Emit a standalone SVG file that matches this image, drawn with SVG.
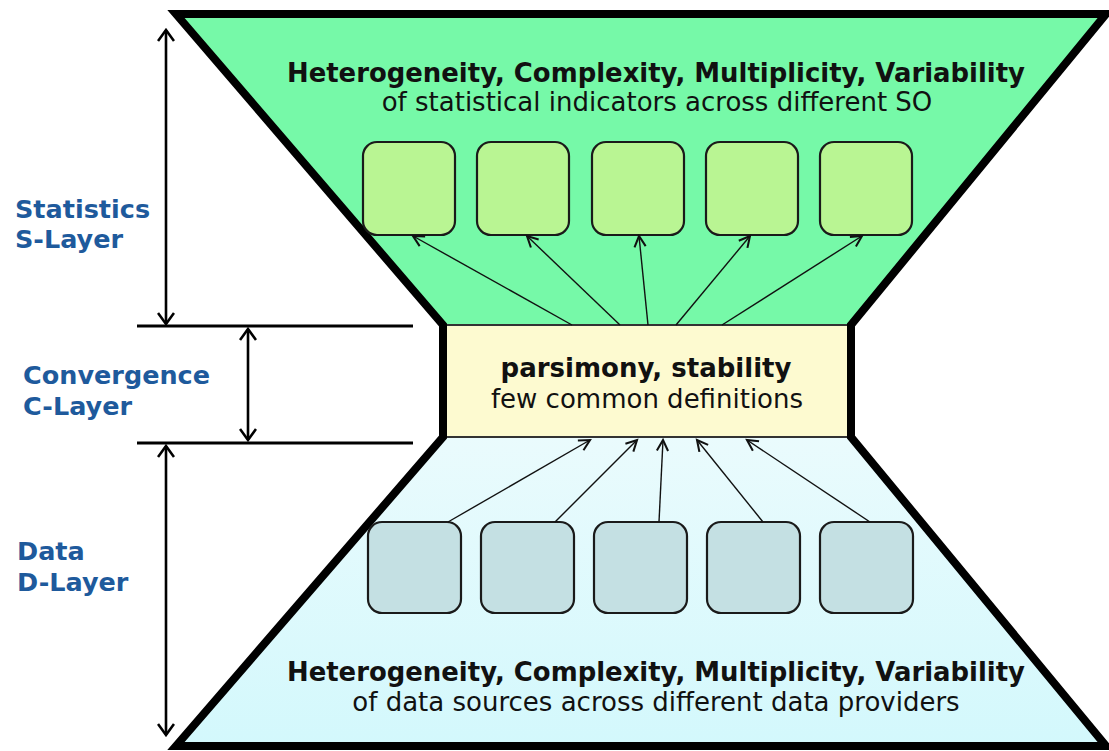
<svg xmlns="http://www.w3.org/2000/svg" width="1109" height="751" viewBox="0 0 1109 751">
<defs>
<style>
.t{font-family:"DejaVu Sans","Verdana",sans-serif;font-size:26px;fill:#111;text-anchor:middle}
.b{font-weight:bold}
.lab{font-family:"DejaVu Sans","Verdana",sans-serif;font-size:25.5px;font-weight:bold;fill:#1E5A9C}
.sbox{fill:#B9F593;stroke:#1a1a1a;stroke-width:2.2}
.dbox{fill:#C4E0E3;stroke:#1a1a1a;stroke-width:2.2}
.conn{stroke:#111;stroke-width:1.4;fill:none;marker-end:url(#ah)}
.dim{stroke:#000;stroke-width:2.6;fill:none}
</style>
<marker id="ah" markerUnits="userSpaceOnUse" markerWidth="14" markerHeight="14" refX="11" refY="6" orient="auto" viewBox="0 0 13 12">
<path d="M1,0.8 L11,6 L1,11.2" fill="none" stroke="#111" stroke-width="1.9"/>
</marker>
<marker id="dh" markerUnits="userSpaceOnUse" markerWidth="14" markerHeight="18" refX="12" refY="9" orient="auto-start-reverse" viewBox="0 0 14 18">
<path d="M1,1 L12,9 L1,17" fill="none" stroke="#000" stroke-width="2.6"/>
</marker>
<linearGradient id="dg" x1="0" y1="0" x2="0" y2="1">
<stop offset="0" stop-color="#EAFBFD"/>
<stop offset="1" stop-color="#D3F8FC"/>
</linearGradient>
</defs>

<g id="hourglass">
<polygon points="176,14 1106,14 851,325 443,325" fill="#76F9A8"/>
<polygon points="443,437 851,437 1106,746 176,746" fill="url(#dg)"/>
<rect x="443" y="325" width="408" height="112" fill="#FDFAD0" stroke="#333" stroke-width="2"/>
<path d="M176,14 L1106,14 L851,325 L851,437 L1106,746 L176,746 L443,437 L443,325 Z" fill="none" stroke="#000" stroke-width="8" stroke-linejoin="miter"/>
</g>

<g id="s-layer-text">
<text class="t b" x="656" y="82" textLength="738" lengthAdjust="spacingAndGlyphs">Heterogeneity, Complexity, Multiplicity, Variability</text>
<text class="t" x="657" y="111">of statistical indicators across different SO</text>
</g>

<g id="s-boxes">
<rect id="s1" class="sbox" x="363" y="142" width="92" height="93" rx="14"/>
<rect id="s2" class="sbox" x="477" y="142" width="92" height="93" rx="14"/>
<rect id="s3" class="sbox" x="592" y="142" width="92" height="93" rx="14"/>
<rect id="s4" class="sbox" x="706" y="142" width="92" height="93" rx="14"/>
<rect id="s5" class="sbox" x="820" y="142" width="92" height="93" rx="14"/>
</g>

<g id="c-layer-text">
<text class="t b" x="646" y="377">parsimony, stability</text>
<text class="t" x="647" y="408">few common definitions</text>
</g>

<g id="d-boxes">
<rect id="d1" class="dbox" x="368" y="522" width="93" height="91" rx="14"/>
<rect id="d2" class="dbox" x="481" y="522" width="93" height="91" rx="14"/>
<rect id="d3" class="dbox" x="594" y="522" width="93" height="91" rx="14"/>
<rect id="d4" class="dbox" x="707" y="522" width="93" height="91" rx="14"/>
<rect id="d5" class="dbox" x="820" y="522" width="93" height="91" rx="14"/>
</g>

<g id="d-layer-text">
<text class="t b" x="656" y="681" textLength="738" lengthAdjust="spacingAndGlyphs">Heterogeneity, Complexity, Multiplicity, Variability</text>
<text class="t" x="656" y="711">of data sources across different data providers</text>
</g>

<g id="connectors">
<line class="conn" x1="572" y1="325" x2="413" y2="236"/>
<line class="conn" x1="620" y1="325" x2="527" y2="236"/>
<line class="conn" x1="648" y1="325" x2="639" y2="236"/>
<line class="conn" x1="676" y1="325" x2="750" y2="236"/>
<line class="conn" x1="722" y1="325" x2="862" y2="236"/>
<line class="conn" x1="448" y1="522" x2="590" y2="440"/>
<line class="conn" x1="555" y1="522" x2="637" y2="440"/>
<line class="conn" x1="659" y1="522" x2="663" y2="440"/>
<line class="conn" x1="763" y1="522" x2="697" y2="440"/>
<line class="conn" x1="870" y1="522" x2="747" y2="440"/>
</g>

<g id="dimensions">
<line x1="137" y1="326" x2="413" y2="326" stroke="#000" stroke-width="3"/>
<line x1="137" y1="443" x2="413" y2="443" stroke="#000" stroke-width="3"/>
<line class="dim" x1="166" y1="30" x2="166" y2="324" marker-start="url(#dh)" marker-end="url(#dh)"/>
<line class="dim" x1="248" y1="329" x2="248" y2="440" marker-start="url(#dh)" marker-end="url(#dh)"/>
<line class="dim" x1="166" y1="446" x2="166" y2="735" marker-start="url(#dh)" marker-end="url(#dh)"/>
</g>

<g id="labels">
<text class="lab" x="15" y="218">Statistics</text>
<text class="lab" x="15" y="248">S-Layer</text>
<text class="lab" x="23" y="384">Convergence</text>
<text class="lab" x="23" y="415">C-Layer</text>
<text class="lab" x="17" y="560">Data</text>
<text class="lab" x="17" y="591">D-Layer</text>
</g>
</svg>
